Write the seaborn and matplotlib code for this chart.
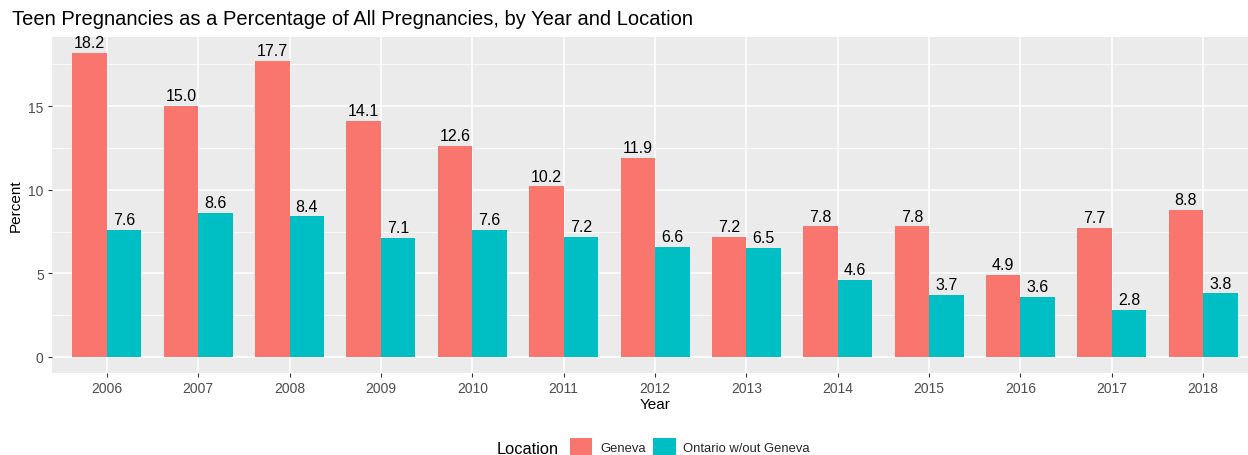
import pandas as pd
import numpy as np
import matplotlib
matplotlib.use("Agg")
import matplotlib.pyplot as plt
import seaborn as sns
from matplotlib.patches import Patch
from matplotlib.ticker import MultipleLocator

# Data
years = ["2006", "2007", "2008", "2009", "2010", "2011", "2012",
         "2013", "2014", "2015", "2016", "2017", "2018"]
geneva = [18.2, 15.0, 17.7, 14.1, 12.6, 10.2, 11.9, 7.2, 7.8, 7.8, 4.9, 7.7, 8.8]
ontario = [7.6, 8.6, 8.4, 7.1, 7.6, 7.2, 6.6, 6.5, 4.6, 3.7, 3.6, 2.8, 3.8]
locations = ["Geneva", "Ontario w/out Geneva"]
colors = ["#F8766D", "#00BFC4"]

df = pd.DataFrame({
    "Year": years * 2,
    "Percent": geneva + ontario,
    "Location": [locations[0]] * len(years) + [locations[1]] * len(years),
})

sns.set_theme(style="darkgrid")
plt.rcParams["font.family"] = ["Liberation Sans", "DejaVu Sans"]

fig = plt.figure(figsize=(12.48, 4.56), dpi=100)
# panel runs slightly past the right edge, as in the original
ax = fig.add_axes([0.0417, 0.1798, 0.9663, 0.7369])

sns.barplot(data=df, x="Year", y="Percent", hue="Location", palette=colors,
            width=0.755, gap=0, saturation=1, legend=False, linewidth=0, ax=ax)

for cont in ax.containers:
    ax.bar_label(cont, fmt="%.1f", padding=2, fontsize=11.5, color="black")

ax.set_facecolor("#EBEBEB")
ax.set_xlim(-0.6, 12.6)
ax.set_ylim(-0.96, 19.13)
ax.yaxis.set_major_locator(MultipleLocator(5))
ax.yaxis.set_minor_locator(MultipleLocator(2.5))
ax.grid(which="major", color="white", linewidth=1.1)
ax.grid(which="minor", axis="y", color="white", linewidth=0.55)
ax.set_axisbelow(True)
for s in ax.spines.values():
    s.set_visible(False)

ax.tick_params(axis="both", which="major", length=3, width=0.8, color="#333333",
               labelcolor="#4D4D4D", labelsize=10, pad=3, bottom=True, left=True)
ax.tick_params(axis="y", which="minor", length=0)

ax.set_xlabel("Year", fontsize=11, color="black", labelpad=1)
ax.set_ylabel("Percent", fontsize=11, color="black", labelpad=4)

fig.text(0.0096, 0.958, "Teen Pregnancies as a Percentage of All Pregnancies, by Year and Location",
         fontsize=14.5, color="black", va="center", ha="left")

# legend along the bottom
handles = [Patch(facecolor=c, edgecolor="none") for c in colors]
fig.text(0.398, 0.0132, "Location", fontsize=11.8, color="black", va="center", ha="left")
fig.legend(handles, locations, loc="center left", bbox_to_anchor=(0.4567, 0.0175),
           ncol=2, frameon=False, fontsize=9.4, handlelength=1.7, handleheight=1.7,
           handletextpad=0.6, columnspacing=0.6, borderpad=0, borderaxespad=0)

fig.savefig("out.png", dpi=100)
